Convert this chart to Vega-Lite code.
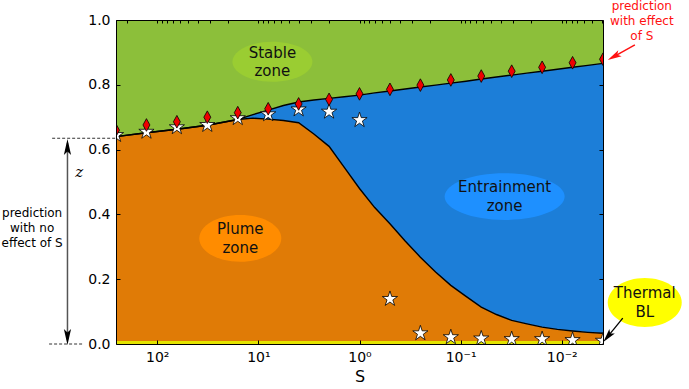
{
  "$schema": "https://vega.github.io/schema/vega-lite/v6.json",
  "width": 487,
  "height": 324,
  "autosize": {"type": "none"},
  "padding": {"left": 116, "top": 20, "right": 86, "bottom": 45},
  "background": "white",
  "config": {
    "font": "DejaVu Sans",
    "view": {"stroke": null},
    "axis": {"grid": false, "domainColor": "black", "tickColor": "black", "labelColor": "black", "labelFont": "DejaVu Sans", "labelFontSize": 14, "titleFont": "DejaVu Sans", "titleColor": "black", "titleFontWeight": "normal"}
  },
  "datasets": {
    "curve": [
      {"S": 256, "top": 0.640, "mid": 0.640},
      {"S": 128, "top": 0.652, "mid": 0.652},
      {"S": 64, "top": 0.663, "mid": 0.663},
      {"S": 32, "top": 0.675, "mid": 0.675},
      {"S": 16, "top": 0.693, "mid": 0.693},
      {"S": 11.31, "top": 0.708, "mid": 0.697},
      {"S": 8, "top": 0.722, "mid": 0.694},
      {"S": 5.657, "top": 0.736, "mid": 0.690},
      {"S": 4, "top": 0.747, "mid": 0.683},
      {"S": 2.828, "top": 0.753, "mid": 0.648},
      {"S": 2, "top": 0.758, "mid": 0.610},
      {"S": 1.414, "top": 0.763, "mid": 0.545},
      {"S": 1, "top": 0.768, "mid": 0.480},
      {"S": 0.7071, "top": 0.775, "mid": 0.421},
      {"S": 0.5, "top": 0.781, "mid": 0.371},
      {"S": 0.3536, "top": 0.787, "mid": 0.318},
      {"S": 0.25, "top": 0.793, "mid": 0.268},
      {"S": 0.1768, "top": 0.799, "mid": 0.222},
      {"S": 0.125, "top": 0.805, "mid": 0.181},
      {"S": 0.08839, "top": 0.811, "mid": 0.147},
      {"S": 0.0625, "top": 0.818, "mid": 0.114},
      {"S": 0.04419, "top": 0.824, "mid": 0.091},
      {"S": 0.03125, "top": 0.830, "mid": 0.073},
      {"S": 0.0221, "top": 0.836, "mid": 0.062},
      {"S": 0.015625, "top": 0.842, "mid": 0.052},
      {"S": 0.01105, "top": 0.848, "mid": 0.045},
      {"S": 0.0078125, "top": 0.854, "mid": 0.040},
      {"S": 0.005524, "top": 0.860, "mid": 0.036},
      {"S": 0.00390625, "top": 0.866, "mid": 0.033}
    ],
    "stars": [
      {"S": 256, "z": 0.645}, {"S": 128, "z": 0.655}, {"S": 64, "z": 0.669}, {"S": 32, "z": 0.676},
      {"S": 16, "z": 0.697}, {"S": 8, "z": 0.709}, {"S": 4, "z": 0.724}, {"S": 2, "z": 0.717},
      {"S": 1, "z": 0.691}, {"S": 0.5, "z": 0.139}, {"S": 0.25, "z": 0.033}, {"S": 0.125, "z": 0.021},
      {"S": 0.0625, "z": 0.017}, {"S": 0.03125, "z": 0.015}, {"S": 0.015625, "z": 0.015},
      {"S": 0.0078125, "z": 0.012}, {"S": 0.00390625, "z": 0.010}
    ],
    "diamonds": [
      {"S": 256, "z": 0.660}, {"S": 128, "z": 0.676}, {"S": 64, "z": 0.686}, {"S": 32, "z": 0.700},
      {"S": 16, "z": 0.714}, {"S": 8, "z": 0.726}, {"S": 4, "z": 0.741}, {"S": 2, "z": 0.755},
      {"S": 1, "z": 0.772}, {"S": 0.5, "z": 0.786}, {"S": 0.25, "z": 0.799}, {"S": 0.125, "z": 0.815},
      {"S": 0.0625, "z": 0.827}, {"S": 0.03125, "z": 0.842}, {"S": 0.015625, "z": 0.854},
      {"S": 0.0078125, "z": 0.868}, {"S": 0.00390625, "z": 0.879}
    ],
    "zones": [
      {"id": "stable", "S": 7.27, "z": 0.871, "label": "Stable\nzone"},
      {"id": "entrain", "S": 0.0367, "z": 0.455, "label": "Entrainment\nzone"},
      {"id": "plume", "S": 15.1, "z": 0.326, "label": "Plume\nzone"},
      {"id": "thermal", "S": 0.00151, "z": 0.128, "label": "Thermal\nBL"}
    ],
    "notes": [
      {"id": "noeffect", "S": 1729, "z": 0.358, "text": "prediction\nwith no\neffect of S"},
      {"id": "effect", "S": 0.001614, "z": 0.9975, "text": "prediction\nwith effect\nof S"},
      {"id": "zlabel", "S": 592, "z": 0.531, "text": "z"}
    ],
    "segments": [
      {"id": "dash-top", "S": 1096, "S2": 256, "z": 0.635, "z2": 0.635},
      {"id": "dash-bottom", "S": 1175, "S2": 540, "z": 0, "z2": 0},
      {"id": "zarrow", "S": 773, "S2": 773, "z": 0.62, "z2": 0.012},
      {"id": "redarrow", "S": 0.00189, "S2": 0.00305, "z": 0.923, "z2": 0.887},
      {"id": "blarrow", "S": 0.00249, "S2": 0.00351, "z": 0.080, "z2": 0.0228}
    ],
    "heads": [
      {"id": "z-up", "S": 773, "z": 0.608},
      {"id": "z-down", "S": 773, "z": 0.0216},
      {"id": "red", "S": 0.00305, "z": 0.887},
      {"id": "thermal", "S": 0.00351, "z": 0.0228}
    ]
  },
  "resolve": {"axis": {"x": "independent", "y": "independent"}},
  "layer": [
    {
      "data": {"name": "curve"},
      "mark": {"type": "area", "color": "#8cbf3a"},
      "encoding": {
        "x": {"field": "S", "type": "quantitative", "scale": {"type": "log", "domain": [0.00390625, 256], "reverse": true, "nice": false},
          "axis": {"orient": "bottom", "values": [100, 10, 1, 0.1, 0.01], "labelExpr": "datum.value >= 50 ? '10²' : datum.value >= 5 ? '10¹' : datum.value >= 0.5 ? '10⁰' : datum.value >= 0.05 ? '10⁻¹' : '10⁻²'", "tickSize": -4, "labelPadding": 10, "title": "S", "titleFontSize": 16, "titlePadding": 4, "zindex": 1}},
        "y": {"field": "top", "type": "quantitative", "scale": {"domain": [0, 1], "nice": false, "zero": false},
          "axis": {"orient": "left", "values": [0, 0.2, 0.4, 0.6, 0.8, 1], "format": ".1f", "tickSize": -4, "labelPadding": 10, "title": null, "zindex": 1}},
        "y2": {"datum": 1}
      }
    },
    {
      "data": {"name": "curve"},
      "mark": {"type": "area", "color": "#1c7ed8"},
      "encoding": {
        "x": {"field": "S", "type": "quantitative", "scale": {"type": "log", "domain": [0.00390625, 256], "reverse": true, "nice": false}, "axis": null},
        "y": {"field": "mid", "type": "quantitative", "scale": {"domain": [0, 1], "nice": false, "zero": false}, "axis": null},
        "y2": {"field": "top"}
      }
    },
    {
      "data": {"name": "curve"},
      "mark": {"type": "area", "color": "#e07b06"},
      "encoding": {
        "x": {"field": "S", "type": "quantitative", "scale": {"type": "log", "domain": [0.00390625, 256], "reverse": true, "nice": false}, "axis": null},
        "y": {"field": "mid", "type": "quantitative", "scale": {"domain": [0, 1], "nice": false, "zero": false}, "axis": null},
        "y2": {"datum": 0.009}
      }
    },
    {
      "data": {"name": "curve"},
      "mark": {"type": "area", "color": "#e3e300"},
      "encoding": {
        "x": {"field": "S", "type": "quantitative", "scale": {"type": "log", "domain": [0.00390625, 256], "reverse": true, "nice": false}, "axis": null},
        "y": {"datum": 0.009, "type": "quantitative", "scale": {"domain": [0, 1], "nice": false, "zero": false}, "axis": null},
        "y2": {"datum": 0}
      }
    },
    {
      "data": {"name": "curve"},
      "mark": {"type": "line", "color": "black", "strokeWidth": 1.4},
      "encoding": {
        "x": {"field": "S", "type": "quantitative", "scale": {"type": "log", "domain": [0.00390625, 256], "reverse": true, "nice": false}, "axis": null},
        "y": {"field": "top", "type": "quantitative", "scale": {"domain": [0, 1], "nice": false, "zero": false}, "axis": null}
      }
    },
    {
      "data": {"name": "curve"},
      "mark": {"type": "line", "color": "black", "strokeWidth": 1.4},
      "encoding": {
        "x": {"field": "S", "type": "quantitative", "scale": {"type": "log", "domain": [0.00390625, 256], "reverse": true, "nice": false}, "axis": null},
        "y": {"field": "mid", "type": "quantitative", "scale": {"domain": [0, 1], "nice": false, "zero": false}, "axis": null}
      }
    },
    {
      "data": {"name": "zones"},
      "transform": [{"filter": "datum.id == 'stable'"}],
      "mark": {"type": "point", "filled": true, "opacity": 1, "color": "#9acd32", "strokeWidth": 0, "size": 6400, "shape": "M -1 0 C -1 -0.276 -0.552 -0.5 0 -0.5 C 0.552 -0.5 1 -0.276 1 0 C 1 0.276 0.552 0.5 0 0.5 C -0.552 0.5 -1 0.276 -1 0 Z"},
      "encoding": {
        "x": {"field": "S", "type": "quantitative", "scale": {"type": "log", "domain": [0.00390625, 256], "reverse": true, "nice": false}, "axis": null},
        "y": {"field": "z", "type": "quantitative", "scale": {"domain": [0, 1], "nice": false, "zero": false}, "axis": null}
      }
    },
    {
      "data": {"name": "zones"},
      "transform": [{"filter": "datum.id == 'entrain'"}],
      "mark": {"type": "point", "filled": true, "opacity": 1, "color": "#1e90ff", "strokeWidth": 0, "size": 14400, "shape": "M -1 0 C -1 -0.215 -0.552 -0.39 0 -0.39 C 0.552 -0.39 1 -0.215 1 0 C 1 0.215 0.552 0.39 0 0.39 C -0.552 0.39 -1 0.215 -1 0 Z"},
      "encoding": {
        "x": {"field": "S", "type": "quantitative", "scale": {"type": "log", "domain": [0.00390625, 256], "reverse": true, "nice": false}, "axis": null},
        "y": {"field": "z", "type": "quantitative", "scale": {"domain": [0, 1], "nice": false, "zero": false}, "axis": null}
      }
    },
    {
      "data": {"name": "zones"},
      "transform": [{"filter": "datum.id == 'plume'"}],
      "mark": {"type": "point", "filled": true, "opacity": 1, "color": "#ff8c00", "strokeWidth": 0, "size": 6724, "shape": "M -1 0 C -1 -0.315 -0.552 -0.57 0 -0.57 C 0.552 -0.57 1 -0.315 1 0 C 1 0.315 0.552 0.57 0 0.57 C -0.552 0.57 -1 0.315 -1 0 Z"},
      "encoding": {
        "x": {"field": "S", "type": "quantitative", "scale": {"type": "log", "domain": [0.00390625, 256], "reverse": true, "nice": false}, "axis": null},
        "y": {"field": "z", "type": "quantitative", "scale": {"domain": [0, 1], "nice": false, "zero": false}, "axis": null}
      }
    },
    {
      "data": {"name": "zones"},
      "transform": [{"filter": "datum.id == 'thermal'"}],
      "mark": {"type": "point", "filled": true, "opacity": 1, "color": "#ffff00", "strokeWidth": 0, "size": 5476, "shape": "M -1 0 C -1 -0.365 -0.552 -0.66 0 -0.66 C 0.552 -0.66 1 -0.365 1 0 C 1 0.365 0.552 0.66 0 0.66 C -0.552 0.66 -1 0.365 -1 0 Z"},
      "encoding": {
        "x": {"field": "S", "type": "quantitative", "scale": {"type": "log", "domain": [0.00390625, 256], "reverse": true, "nice": false}, "axis": null},
        "y": {"field": "z", "type": "quantitative", "scale": {"domain": [0, 1], "nice": false, "zero": false}, "axis": null}
      }
    },
    {
      "data": {"name": "zones"},
      "mark": {"type": "text", "fontSize": 15, "color": "#111111", "align": "center", "baseline": "middle", "lineBreak": "\n", "lineHeight": 18.5, "dy": -9.25},
      "encoding": {
        "x": {"field": "S", "type": "quantitative", "scale": {"type": "log", "domain": [0.00390625, 256], "reverse": true, "nice": false}, "axis": null},
        "y": {"field": "z", "type": "quantitative", "scale": {"domain": [0, 1], "nice": false, "zero": false}, "axis": null},
        "text": {"field": "label"}
      }
    },
    {
      "data": {"name": "stars"},
      "mark": {"type": "point", "shape": "M 0 -1 L 0.2245 -0.309 L 0.951 -0.309 L 0.3633 0.118 L 0.588 0.809 L 0 0.382 L -0.588 0.809 L -0.3633 0.118 L -0.951 -0.309 L -0.2245 -0.309 Z", "filled": true, "opacity": 1, "fill": "white", "stroke": "black", "strokeWidth": 0.8, "size": 256, "clip": true},
      "encoding": {
        "x": {"field": "S", "type": "quantitative", "scale": {"type": "log", "domain": [0.00390625, 256], "reverse": true, "nice": false},
          "axis": {"orient": "top", "values": [200, 100, 90, 80, 70, 60, 50, 40, 30, 20, 10, 9, 8, 7, 6, 5, 4, 3, 2, 1, 0.9, 0.8, 0.7, 0.6, 0.5, 0.4, 0.3, 0.2, 0.1, 0.09, 0.08, 0.07, 0.06, 0.05, 0.04, 0.03, 0.02, 0.01, 0.009, 0.008, 0.007, 0.006, 0.005, 0.004], "labels": false, "tickSize": -3, "title": null, "zindex": 1}},
        "y": {"field": "z", "type": "quantitative", "scale": {"domain": [0, 1], "nice": false, "zero": false},
          "axis": {"orient": "right", "values": [0, 0.2, 0.4, 0.6, 0.8, 1], "labels": false, "tickSize": -4, "title": null, "zindex": 1}}
      }
    },
    {
      "data": {"name": "diamonds"},
      "mark": {"type": "point", "shape": "M 0 -1 L 0.55 0 L 0 1 L -0.55 0 Z", "filled": true, "opacity": 1, "fill": "#ee0000", "stroke": "black", "strokeWidth": 0.8, "size": 160, "clip": true},
      "encoding": {
        "x": {"field": "S", "type": "quantitative", "scale": {"type": "log", "domain": [0.00390625, 256], "reverse": true, "nice": false}, "axis": null},
        "y": {"field": "z", "type": "quantitative", "scale": {"domain": [0, 1], "nice": false, "zero": false}, "axis": null}
      }
    },
    {
      "data": {"name": "segments"},
      "transform": [{"filter": "datum.id == 'dash-top' || datum.id == 'dash-bottom'"}],
      "mark": {"type": "rule", "color": "#333333", "strokeWidth": 1, "strokeDash": [3, 2]},
      "encoding": {
        "x": {"field": "S", "type": "quantitative", "scale": {"type": "log", "domain": [0.00390625, 256], "reverse": true, "nice": false}, "axis": null},
        "x2": {"field": "S2"},
        "y": {"field": "z", "type": "quantitative", "scale": {"domain": [0, 1], "nice": false, "zero": false}, "axis": null},
        "y2": {"field": "z2"}
      }
    },
    {
      "data": {"name": "segments"},
      "transform": [{"filter": "datum.id == 'zarrow'"}],
      "mark": {"type": "rule", "color": "#555555", "strokeWidth": 1.5},
      "encoding": {
        "x": {"field": "S", "type": "quantitative", "scale": {"type": "log", "domain": [0.00390625, 256], "reverse": true, "nice": false}, "axis": null},
        "x2": {"field": "S2"},
        "y": {"field": "z", "type": "quantitative", "scale": {"domain": [0, 1], "nice": false, "zero": false}, "axis": null},
        "y2": {"field": "z2"}
      }
    },
    {
      "data": {"name": "segments"},
      "transform": [{"filter": "datum.id == 'redarrow'"}],
      "mark": {"type": "rule", "color": "#ff1111", "strokeWidth": 1.5},
      "encoding": {
        "x": {"field": "S", "type": "quantitative", "scale": {"type": "log", "domain": [0.00390625, 256], "reverse": true, "nice": false}, "axis": null},
        "x2": {"field": "S2"},
        "y": {"field": "z", "type": "quantitative", "scale": {"domain": [0, 1], "nice": false, "zero": false}, "axis": null},
        "y2": {"field": "z2"}
      }
    },
    {
      "data": {"name": "segments"},
      "transform": [{"filter": "datum.id == 'blarrow'"}],
      "mark": {"type": "rule", "color": "black", "strokeWidth": 1.3},
      "encoding": {
        "x": {"field": "S", "type": "quantitative", "scale": {"type": "log", "domain": [0.00390625, 256], "reverse": true, "nice": false}, "axis": null},
        "x2": {"field": "S2"},
        "y": {"field": "z", "type": "quantitative", "scale": {"domain": [0, 1], "nice": false, "zero": false}, "axis": null},
        "y2": {"field": "z2"}
      }
    },
    {
      "data": {"name": "heads"},
      "transform": [{"filter": "datum.id == 'z-up'"}],
      "mark": {"type": "point", "shape": "M 0 -1 L 0.45 1 L 0 0.55 L -0.45 1 Z", "filled": true, "opacity": 1, "color": "black", "size": 256, "angle": 0},
      "encoding": {
        "x": {"field": "S", "type": "quantitative", "scale": {"type": "log", "domain": [0.00390625, 256], "reverse": true, "nice": false}, "axis": null},
        "y": {"field": "z", "type": "quantitative", "scale": {"domain": [0, 1], "nice": false, "zero": false}, "axis": null}
      }
    },
    {
      "data": {"name": "heads"},
      "transform": [{"filter": "datum.id == 'z-down'"}],
      "mark": {"type": "point", "shape": "M 0 -1 L 0.45 1 L 0 0.55 L -0.45 1 Z", "filled": true, "opacity": 1, "color": "black", "size": 256, "angle": 180},
      "encoding": {
        "x": {"field": "S", "type": "quantitative", "scale": {"type": "log", "domain": [0.00390625, 256], "reverse": true, "nice": false}, "axis": null},
        "y": {"field": "z", "type": "quantitative", "scale": {"domain": [0, 1], "nice": false, "zero": false}, "axis": null}
      }
    },
    {
      "data": {"name": "heads"},
      "transform": [{"filter": "datum.id == 'red'"}],
      "mark": {"type": "point", "shape": "M 0 -1 L 0.5 1 L 0 0.55 L -0.5 1 Z", "filled": true, "opacity": 1, "color": "#ff1111", "size": 196, "angle": 241},
      "encoding": {
        "x": {"field": "S", "type": "quantitative", "scale": {"type": "log", "domain": [0.00390625, 256], "reverse": true, "nice": false}, "axis": null},
        "y": {"field": "z", "type": "quantitative", "scale": {"domain": [0, 1], "nice": false, "zero": false}, "axis": null}
      }
    },
    {
      "data": {"name": "heads"},
      "transform": [{"filter": "datum.id == 'thermal'"}],
      "mark": {"type": "point", "shape": "M 0 -1 L 0.5 1 L 0 0.55 L -0.5 1 Z", "filled": true, "opacity": 1, "color": "black", "size": 196, "angle": 219},
      "encoding": {
        "x": {"field": "S", "type": "quantitative", "scale": {"type": "log", "domain": [0.00390625, 256], "reverse": true, "nice": false}, "axis": null},
        "y": {"field": "z", "type": "quantitative", "scale": {"domain": [0, 1], "nice": false, "zero": false}, "axis": null}
      }
    },
    {
      "data": {"name": "notes"},
      "transform": [{"filter": "datum.id == 'noeffect'"}],
      "mark": {"type": "text", "fontSize": 12, "color": "black", "align": "center", "baseline": "middle", "lineBreak": "\n", "lineHeight": 15, "dy": -15},
      "encoding": {
        "x": {"field": "S", "type": "quantitative", "scale": {"type": "log", "domain": [0.00390625, 256], "reverse": true, "nice": false}, "axis": null},
        "y": {"field": "z", "type": "quantitative", "scale": {"domain": [0, 1], "nice": false, "zero": false}, "axis": null},
        "text": {"field": "text"}
      }
    },
    {
      "data": {"name": "notes"},
      "transform": [{"filter": "datum.id == 'effect'"}],
      "mark": {"type": "text", "fontSize": 12, "color": "#ff1111", "align": "center", "baseline": "middle", "lineBreak": "\n", "lineHeight": 15, "dy": -15},
      "encoding": {
        "x": {"field": "S", "type": "quantitative", "scale": {"type": "log", "domain": [0.00390625, 256], "reverse": true, "nice": false}, "axis": null},
        "y": {"field": "z", "type": "quantitative", "scale": {"domain": [0, 1], "nice": false, "zero": false}, "axis": null},
        "text": {"field": "text"}
      }
    },
    {
      "data": {"name": "notes"},
      "transform": [{"filter": "datum.id == 'zlabel'"}],
      "mark": {"type": "text", "font": "DejaVu Serif", "fontStyle": "italic", "fontSize": 15, "color": "black", "align": "center", "baseline": "middle"},
      "encoding": {
        "x": {"field": "S", "type": "quantitative", "scale": {"type": "log", "domain": [0.00390625, 256], "reverse": true, "nice": false}, "axis": null},
        "y": {"field": "z", "type": "quantitative", "scale": {"domain": [0, 1], "nice": false, "zero": false}, "axis": null},
        "text": {"field": "text"}
      }
    }
  ]
}
